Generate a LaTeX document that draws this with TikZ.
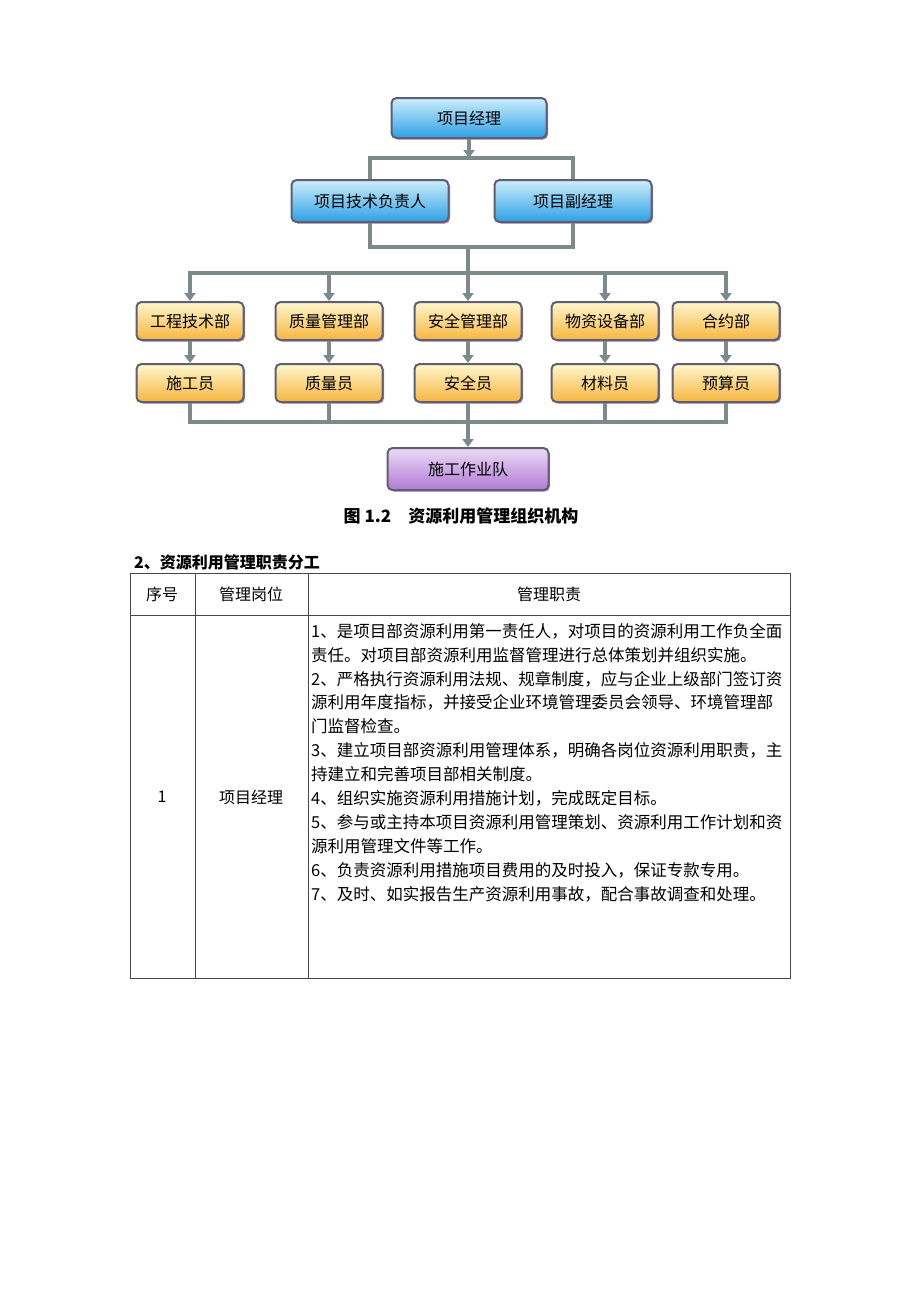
\documentclass[tikz,border=0pt]{standalone}
\usepackage{fontspec}
\setmainfont{Noto Sans CJK SC}
\usepackage{xcolor}
\usepackage{tikz}
\usetikzlibrary{
  arrows.meta,
  positioning,
  shadows
}
\definecolor{borda}{RGB}{95,95,115}
\definecolor{sombra}{RGB}{120,70,140}
\definecolor{azulclaro}{RGB}{205,238,252}
\definecolor{azul}{RGB}{45,160,228}
\definecolor{creme}{RGB}{255,246,205}
\definecolor{laranja}{RGB}{246,182,62}
\definecolor{lilas}{RGB}{236,218,246}
\definecolor{roxo}{RGB}{176,122,212}
\definecolor{conector}{RGB}{125,138,140}
\definecolor{ponta}{RGB}{110,140,165}
\definecolor{tinta}{RGB}{70,70,70}

\begin{document}
\begin{tikzpicture}[
      x=1pt, y=-1pt,
      >=Triangle,
      caixa/.style={draw=borda, line width=2pt, rounded corners=5pt, align=center, inner sep=0pt, font=\fontsize{16}{18}\selectfont,
        drop shadow={shadow xshift=1.5pt, shadow yshift=-1.5pt, fill=sombra, opacity=0.7}},
      chefe/.style={caixa, top color=azulclaro, bottom color=azul},
      depto/.style={caixa, minimum width=107pt, minimum height=38pt, top color=creme, bottom color=laranja},
      equipe/.style={caixa, top color=lilas, bottom color=roxo},
      linha/.style={line width=3.2pt, draw=conector},
      seta/.style={linha, -{Triangle[width=11pt,length=8pt,fill=ponta]}},
      grade/.style={line width=0.8pt, draw=tinta},
      texto/.style={font=\fontsize{16}{18}\selectfont, inner sep=0pt}
  ]
      \fill[white] (0,0) rectangle (920,1301);
      \useasboundingbox (0,0) rectangle (920,1301);

      % Organograma
      \node[chefe, minimum width=155pt, minimum height=40pt] (gp) at (469,118) {项目经理};
      \node[chefe, minimum width=157pt, minimum height=42pt] (tec) at (370,201) {项目技术负责人};
      \node[chefe, minimum width=157pt, minimum height=42pt] (vice) at (573,201) {项目副经理};

      \node[depto] (eng) at (190,321) {工程技术部};
      \node[depto] (qual) at (329,321) {质量管理部};
      \node[depto] (seg) at (468,321) {安全管理部};
      \node[depto] (mat) at (605,321) {物资设备部};
      \node[depto] (cont) at (726,321) {合约部};

      \node[depto] (sg) at (190,383) {施工员};
      \node[depto] (zl) at (329,383) {质量员};
      \node[depto] (aq) at (468,383) {安全员};
      \node[depto] (cl) at (605,383) {材料员};
      \node[depto] (ys) at (726,383) {预算员};

      \node[equipe, minimum width=161pt, minimum height=42pt] (eq) at (468,469) {施工作业队};

      % Pontos de ligacao
      \coordinate (j1) at (469,158);
      \coordinate (j2) at (468,247);
      \coordinate (j3) at (468,273);
      \coordinate (j4) at (468,422);

      % Setas de conexao
      \draw[seta] (gp) -- (j1);
      \draw[linha] (tec.north) |- (j1) -| (vice.north);
      \draw[linha] (tec.south) |- (j2) -| (vice.south);
      \draw[linha] (j2) -- (j3);
      \foreach \d in {eng, qual, seg, mat, cont}
          \draw[seta] (j3) -| (\d.north);
      \draw[seta] (eng) -- (sg);
      \draw[seta] (qual) -- (zl);
      \draw[seta] (seg) -- (aq);
      \draw[seta] (mat) -- (cl);
      \draw[seta] (cont) -- (ys);
      \foreach \c in {sg, zl, aq, cl, ys}
          \draw[linha] (\c.south) |- (j4);
      \draw[seta] (j4) -- (eq);

      \node[texto, font=\fontsize{17}{19}\selectfont\bfseries] (leg) at (461,516) {图 1.2\quad 资源利用管理组织机构};

      % Tabela de responsabilidades
      \node[texto, font=\fontsize{16}{18}\selectfont\bfseries, anchor=west] (tit) at (134,562) {2、资源利用管理职责分工};

      \draw[grade] (130,573) rectangle (790,978);
      \draw[grade] (195,573) -- (195,978);
      \draw[grade] (308,573) -- (308,978);
      \draw[grade] (130,615) -- (790,615);

      \node[texto] (hnum) at (162,594) {序号};
      \node[texto] (hpos) at (251,594) {管理岗位};
      \node[texto] (hres) at (549,594) {管理职责};
      \node[texto] (num) at (162,797) {1};
      \node[texto] (pos) at (251,797) {项目经理};

      \node[texto, font=\fontsize{16.5}{23.9}\selectfont, align=left, anchor=north west] (res) at (311,623) {
          1、是项目部资源利用第一责任人，对项目的资源利用工作负全面\\
          责任。对项目部资源利用监督管理进行总体策划并组织实施。\\
          2、严格执行资源利用法规、规章制度，应与企业上级部门签订资\\
          源利用年度指标，并接受企业环境管理委员会领导、环境管理部\\
          门监督检查。\\
          3、建立项目部资源利用管理体系，明确各岗位资源利用职责，主\\
          持建立和完善项目部相关制度。\\
          4、组织实施资源利用措施计划，完成既定目标。\\
          5、参与或主持本项目资源利用管理策划、资源利用工作计划和资\\
          源利用管理文件等工作。\\
          6、负责资源利用措施项目费用的及时投入，保证专款专用。\\
          7、及时、如实报告生产资源利用事故，配合事故调查和处理。
      };

\end{tikzpicture}
\end{document}
